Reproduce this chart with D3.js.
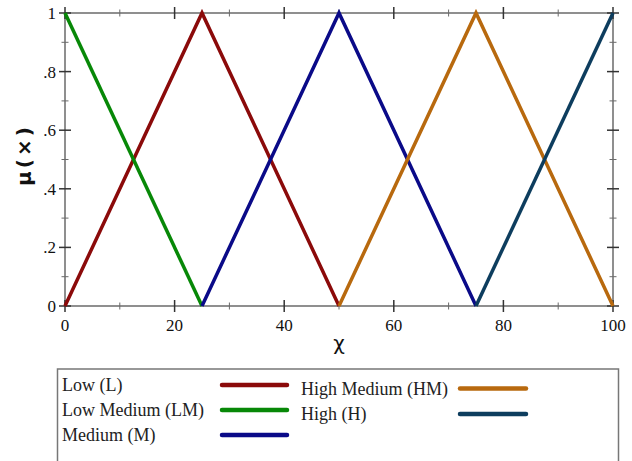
<!DOCTYPE html>
<html><head><meta charset="utf-8">
<script src="https://cdn.jsdelivr.net/npm/d3@7"></script>
<style>body{margin:0;background:#fff}svg{display:block}</style>
</head><body>
<script>
const seriesNames = ["Low (L)", "Low Medium (LM)", "Medium (M)", "High Medium (HM)", "High (H)"];
const seriesColors = ["#8b0a0a", "#078807", "#0a0a88", "#b8690e", "#0d3d5e"];
const lowPts = [[0,0],[25,1],[50,0]];
const lowMedPts = [[0,1],[25,0]];
const mediumPts = [[25,0],[50,1],[75,0]];
const highMedPts = [[50,0],[75,1],[100,0]];
const highPts = [[75,0],[100,1]];
const seriesData = [lowPts, lowMedPts, mediumPts, highMedPts, highPts];
const xTicks = [0,20,40,60,80,100];
const xMinor = [10,30,50,70,90];
const yTicks = [0,0.2,0.4,0.6,0.8,1];
const yTickLabels = ["0",".2",".4",".6",".8","1"];
const yMinor = [0.1,0.3,0.5,0.7,0.9];

const W=632,H=461;
const svg=d3.select("body").append("svg").attr("width",W).attr("height",H);
const x=d3.scaleLinear().domain([0,100]).range([65,613]);
const y=d3.scaleLinear().domain([0,1]).range([306,13]);
const axisCol="#6a6a6a";
const serif="'Liberation Serif','Times New Roman',serif";

// frame lines
const g=svg.append("g");
g.append("line").attr("x1",x(0)).attr("x2",x(100)).attr("y1",y(0)).attr("y2",y(0)).attr("stroke",axisCol).attr("stroke-width",1.5);
g.append("line").attr("x1",x(0)).attr("x2",x(100)).attr("y1",y(1)).attr("y2",y(1)).attr("stroke",axisCol).attr("stroke-width",1.5);
g.append("line").attr("x1",x(0)).attr("x2",x(0)).attr("y1",y(0)).attr("y2",y(1)).attr("stroke",axisCol).attr("stroke-width",1.5);
g.append("line").attr("x1",x(100)).attr("x2",x(100)).attr("y1",y(0)).attr("y2",y(1)).attr("stroke",axisCol).attr("stroke-width",1.5);

function hTicks(vals,len,sw,col){
  [y(0),y(1)].forEach(yy=>{
    g.selectAll(null).data(vals).enter().append("line")
      .attr("x1",d=>x(d)).attr("x2",d=>x(d)).attr("y1",yy-len).attr("y2",yy+len)
      .attr("stroke",col).attr("stroke-width",sw);
  });
}
function vTicks(vals,len,sw,col){
  [x(0),x(100)].forEach(xx=>{
    g.selectAll(null).data(vals).enter().append("line")
      .attr("y1",d=>y(d)).attr("y2",d=>y(d)).attr("x1",xx-len).attr("x2",xx+len)
      .attr("stroke",col).attr("stroke-width",sw);
  });
}
hTicks(xTicks,6,1.5,"#333");
hTicks(xMinor,3.5,1,axisCol);
vTicks(yTicks,6,1.5,"#333");
vTicks(yMinor,3.5,1,axisCol);

// tick labels
svg.selectAll(".xl").data(xTicks).enter().append("text")
  .attr("x",d=>x(d)).attr("y",331).attr("text-anchor","middle")
  .attr("font-family",serif).attr("font-size",17).attr("fill","#111").text(d=>d);
svg.selectAll(".yl").data(yTicks).enter().append("text")
  .attr("x",56).attr("y",d=>y(d)+6).attr("text-anchor","end")
  .attr("font-family",serif).attr("font-size",17).attr("fill","#111").text((d,i)=>yTickLabels[i]);

// axis titles
svg.append("text").attr("x",x(50)).attr("y",350).attr("text-anchor","middle")
  .attr("font-family","'DejaVu Sans',sans-serif").attr("font-size",20).attr("fill","#111").text("χ");
svg.append("text").attr("transform","translate(31,155) rotate(-90)").attr("text-anchor","middle")
  .attr("font-family","'DejaVu Sans',sans-serif").attr("font-weight","bold").attr("font-size",20)
  .attr("letter-spacing",3).attr("fill","#111").text("μ(×)");

// series
const line=d3.line().x(d=>x(d[0])).y(d=>y(d[1]));
svg.selectAll(".s").data(seriesData).enter().append("path")
  .attr("d",line).attr("fill","none").attr("stroke",(d,i)=>seriesColors[i])
  .attr("stroke-width",3.5).attr("stroke-linejoin","miter").attr("stroke-linecap","butt");

// legend
svg.append("rect").attr("x",57.5).attr("y",369).attr("width",561).attr("height",110)
  .attr("fill","#fff").attr("stroke","#777").attr("stroke-width",1.5);
const legPos=[
  {tx:62,ty:385,lx1:222,lx2:287},
  {tx:62,ty:410,lx1:222,lx2:287},
  {tx:62,ty:435,lx1:222,lx2:287},
  {tx:301,ty:388.5,lx1:460,lx2:526},
  {tx:301,ty:414,lx1:460,lx2:526}
];
const lg=svg.selectAll(".lg").data(seriesNames).enter().append("g");
lg.append("text").attr("x",(d,i)=>legPos[i].tx).attr("y",(d,i)=>legPos[i].ty+6)
  .attr("font-family",serif).attr("font-size",18).attr("fill","#222").text(d=>d);
lg.append("line").attr("x1",(d,i)=>legPos[i].lx1).attr("x2",(d,i)=>legPos[i].lx2)
  .attr("y1",(d,i)=>legPos[i].ty).attr("y2",(d,i)=>legPos[i].ty)
  .attr("stroke",(d,i)=>seriesColors[i]).attr("stroke-width",4.5).attr("stroke-linecap","round");
</script>
</body></html>
